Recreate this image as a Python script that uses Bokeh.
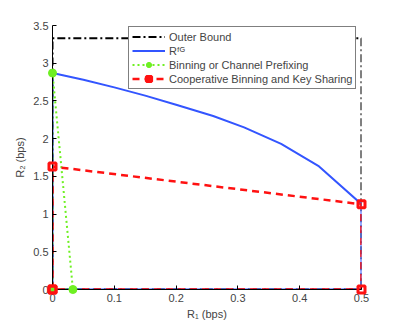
from bokeh.plotting import figure
from bokeh.models import Range1d, Legend, LegendItem, FixedTicker
from bokeh.embed import file_html
from bokeh.resources import INLINE

# Outer bound
ob_r1 = [0, 0, 0.5, 0.5, 0]
ob_r2 = [0, 3.33, 3.33, 0, 0]
# R^FG region
fg_r1 = [0, 0, 0.05, 0.10, 0.15, 0.20, 0.26, 0.31, 0.37, 0.43, 0.5, 0.5, 0]
fg_r2 = [0, 2.87, 2.78, 2.68, 2.57, 2.45, 2.30, 2.15, 1.93, 1.64, 1.13, 0, 0]
# Binning or Channel Prefixing
bc_r1 = [0, 0, 0.033, 0]
bc_r2 = [0, 2.87, 0, 0]
# Cooperative Binning and Key Sharing
cb_r1 = [0, 0, 0.5, 0.5, 0]
cb_r2 = [0, 1.63, 1.13, 0, 0]

x_ticks = [0, 0.1, 0.2, 0.3, 0.4, 0.5]
y_ticks = [0, 0.5, 1, 1.5, 2, 2.5, 3, 3.5]

FONT = "Liberation Sans"
BLUE = "#3355ff"
GREEN = "#6ef022"
RED = "#ff1111"

p = figure(width=390, height=322, output_backend="svg", toolbar_location=None,
           x_range=Range1d(0, 0.5), y_range=Range1d(0, 3.5),
           min_border_left=52, min_border_right=29, min_border_top=25, min_border_bottom=31)
p.outline_line_color = None
p.xgrid.visible = False
p.ygrid.visible = False

for ax in (p.xaxis[0], p.yaxis[0]):
    ax.major_tick_in = 4
    ax.major_tick_out = 0
    ax.minor_tick_line_color = None
    ax.major_label_text_font = FONT
    ax.major_label_text_font_size = "11px"
    ax.axis_label_text_font = FONT
    ax.axis_label_text_font_size = "11px"
    ax.axis_label_text_font_style = "normal"
    ax.axis_line_color = "black"
    ax.major_tick_line_color = "black"
p.xaxis[0].ticker = FixedTicker(ticks=x_ticks)
p.yaxis[0].ticker = FixedTicker(ticks=y_ticks)
p.xaxis[0].major_label_overrides = {0: "0", 0.1: "0.1", 0.2: "0.2", 0.3: "0.3", 0.4: "0.4", 0.5: "0.5"}
p.xaxis[0].axis_label = "R₁ (bps)"
p.yaxis[0].axis_label = "R₂ (bps)"
p.xaxis[0].major_label_standoff = 4
p.yaxis[0].major_label_standoff = 4
p.xaxis[0].axis_label_standoff = 3
p.yaxis[0].axis_label_standoff = 4

r_ob = p.line(ob_r1, ob_r2, line_color="black", line_width=2, line_dash="8 3 2 3")
r_fg = p.line(fg_r1, fg_r2, line_color=BLUE, line_width=2)
r_bc = p.line(bc_r1, bc_r2, line_color=GREEN, line_width=2, line_dash="2 3")
r_bcm = p.scatter(bc_r1, bc_r2, marker="circle", size=8, fill_color=GREEN, line_color=GREEN, level="overlay")
r_cb = p.line(cb_r1, cb_r2, line_color=RED, line_width=2.5, line_dash="7 5")
r_cbm = p.scatter(cb_r1, cb_r2, marker="square", size=7, fill_color=None, line_color=RED,
                  line_width=3, level="overlay")

legend = Legend(items=[
    LegendItem(label="Outer Bound", renderers=[r_ob]),
    LegendItem(label="Rᶠᴳ", renderers=[r_fg]),
    LegendItem(label="Binning or Channel Prefixing", renderers=[r_bc, r_bcm]),
    LegendItem(label="Cooperative Binning and Key Sharing", renderers=[r_cb, r_cbm]),
], location=(76, 200))
legend.label_text_font = FONT
legend.label_text_font_size = "11px"
legend.glyph_width = 33
legend.glyph_height = 13
legend.label_height = 13
legend.label_standoff = 4
legend.spacing = 1
legend.padding = 3
legend.margin = 0
legend.border_line_color = "black"
legend.border_line_width = 1
legend.background_fill_alpha = 1
p.add_layout(legend, "center")

open("out.html", "w").write(file_html(p, INLINE))
